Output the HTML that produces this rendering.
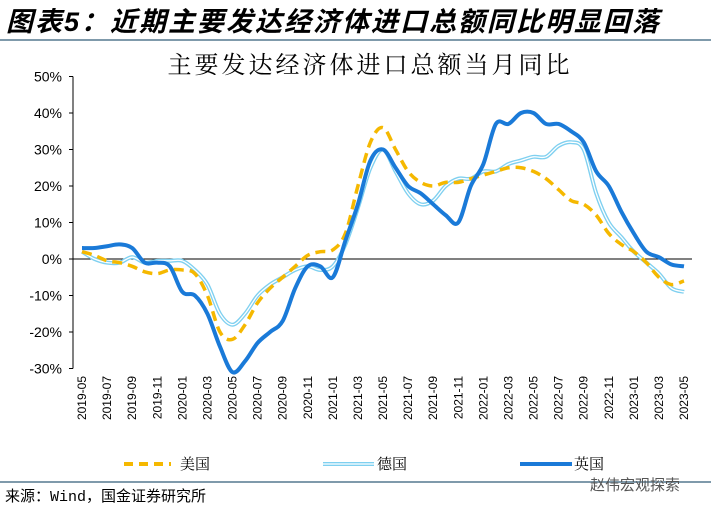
<!DOCTYPE html>
<html><head><meta charset="utf-8"><style>
body{margin:0;background:#fff;width:711px;height:509px;overflow:hidden;font-family:"Liberation Sans","Noto Sans CJK SC",sans-serif}
</style></head><body>
<svg width="711" height="509" xmlns="http://www.w3.org/2000/svg">
<text x="6" y="31" font-size="27" font-weight="bold" font-style="italic" letter-spacing="2" font-family="Liberation Sans,Noto Sans CJK SC,sans-serif">图表5：近期主要发达经济体进口总额同比明显回落</text>
<rect x="0" y="39" width="711" height="2" fill="#7f9aab"/>
<text x="370" y="73" font-size="24" text-anchor="middle" letter-spacing="3" font-family="Noto Serif CJK SC,serif">主要发达经济体进口总额当月同比</text>
<g id="yaxis"></g>
<g id="xaxis"></g>
<g id="series"></g>
<g font-family="Noto Serif CJK SC,serif" font-size="15">
<g><line x1="124" y1="464" x2="171" y2="464" stroke="#f5b800" stroke-width="4" stroke-dasharray="9,6"/><text x="180" y="469">美国</text></g>
<g><line x1="323" y1="464" x2="374" y2="464" stroke="#7fd0f0" stroke-width="4"/><line x1="323" y1="464" x2="374" y2="464" stroke="#fff" stroke-width="1.3"/><text x="377" y="469">德国</text></g>
<g><line x1="520" y1="464" x2="572" y2="464" stroke="#1a7ad8" stroke-width="4"/><text x="574" y="469">英国</text></g>
</g>
<rect x="0" y="481" width="711" height="2" fill="#7f9aab"/>
<text x="5" y="501" font-size="15" font-family="Liberation Mono,Noto Sans CJK SC,monospace">来源：Wind，国金证券研究所</text>
<text x="590" y="490" font-size="15" fill="#555" font-family="Noto Sans CJK SC,sans-serif">赵伟宏观探索</text>
</svg>
<script>
const months=[];for(let i=0;i<49;i++){const m=(4+i)%12+1,y=2019+Math.floor((4+i)/12);months.push(y+'-'+String(m).padStart(2,'0'));}
const yTicks=[50,40,30,20,10,0,-10,-20,-30];
const usData=[2,1,-0.5,-1,-2,-3.5,-4,-3,-3,-4,-10,-20,-22,-18,-12,-8,-5,-2,1,2,2.5,7,20,32,36,30,24,21,20,21,21,22,23,24,25,25,24,22,19,16,15,12,7,4,2,-1,-5,-7,-6];
const deData=[2,0,-1,-1,0.5,-1,-0.5,-0.5,-0.5,-3,-7,-15,-18,-15,-10,-7,-5,-3,-2,-3,-2,4,14,25,30,24,18,15,16,20,22,22,24,24,26,27,28,28,31,32,30,18,10,6,2,-1,-4,-8,-9];
const ukData=[3,3,3.5,4,3,-1,-1,-2,-9,-10,-15,-24,-31,-28,-23,-20,-17,-8,-2,-2,-5,5,15,27,30,25,20,18,15,12,10,20,26,37,37,40,40,37,37,35,32,24,20,13,7,2,0.5,-1.5,-2];
const NS='http://www.w3.org/2000/svg';
const X=i=>82+i*(684-82)/48, Y=v=>259-v*3.65;
function mk(t,a,p){const e=document.createElementNS(NS,t);for(const k in a)e.setAttribute(k,a[k]);p.appendChild(e);return e;}
const ya=document.getElementById('yaxis'),xa=document.getElementById('xaxis'),sg=document.getElementById('series');
mk('line',{x1:73,y1:Y(50),x2:73,y2:Y(-30),stroke:'#000','stroke-width':1},ya);
yTicks.forEach(v=>{const t=mk('text',{x:62,y:Y(v)+5,'font-size':14,'text-anchor':'end'},ya);t.textContent=v+'%';


mk('line',{x1:69,y1:Y(v),x2:73,y2:Y(v),stroke:'#000'},ya);});
mk('line',{x1:73,y1:Y(0),x2:692,y2:Y(0),stroke:'#000'},xa);
months.forEach((m,i)=>{if(i%2)return;const x=X(i);const t=mk('text',{x:0,y:0,'font-size':12,'text-anchor':'end',transform:`translate(${x+4},${376}) rotate(-90)`},xa);t.textContent=m;

});
function path(d){const p=d.map((v,i)=>[X(i),Y(v)]);let s=`M${p[0][0]},${p[0][1]}`;for(let i=0;i<p.length-1;i++){const p0=p[i-1]||p[i],p1=p[i],p2=p[i+1],p3=p[i+2]||p2;s+=` C${p1[0]+(p2[0]-p0[0])/6},${p1[1]+(p2[1]-p0[1])/6} ${p2[0]-(p3[0]-p1[0])/6},${p2[1]-(p3[1]-p1[1])/6} ${p2[0]},${p2[1]}`;}return s;}
let e;
e=mk('path',{d:path(deData),fill:'none',stroke:'#7fd0f0','stroke-width':4},sg);


e=mk('path',{d:path(deData),fill:'none',stroke:'#fff','stroke-width':1.3},sg);


e=mk('path',{d:path(usData),fill:'none',stroke:'#f5b800','stroke-width':3.5,'stroke-dasharray':'10,6'},sg);


e=mk('path',{d:path(ukData),fill:'none',stroke:'#1a7ad8','stroke-width':4},sg);


</script>
</body></html>
